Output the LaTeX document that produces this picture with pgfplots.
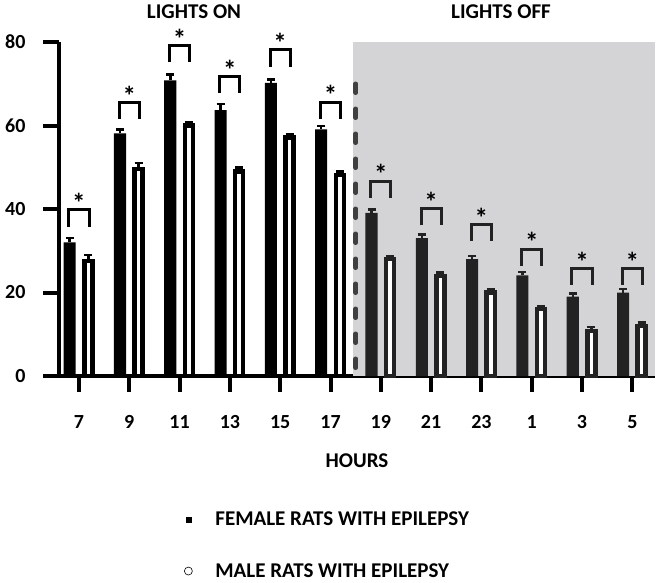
\documentclass[border=0pt]{standalone}
\usepackage{fontspec}
\setmainfont{Carlito}
\usepackage{pgfplots}
\usepackage{pgfplotstable}
\pgfplotsset{compat=1.18}
\definecolor{offbg}{RGB}{212,211,214}
\definecolor{offbar}{RGB}{34,34,34}
\definecolor{dashc}{RGB}{64,64,64}
\newcommand{\lbl}{\fontsize{20}{23}\selectfont\bfseries}

% x = hour index (7,9,...,17 lights on; 19,...,5 lights off)
\pgfplotstableread{
x f fe m me
0 32.0 1.0 27.5 1.5
1 58.1 0.9 49.6 1.4
2 70.8 1.4 60.0 0.8
3 63.7 1.4 49.0 0.9
4 70.2 0.8 57.1 0.8
5 59.1 0.8 48.1 0.9
}\onData
\pgfplotstableread{
x f fe m me
6 39.1 0.8 28.0 0.8
7 33.0 0.9 24.0 0.8
8 28.0 0.8 20.0 0.8
9 24.1 0.8 16.0 0.8
10 19.0 0.8 10.8 0.9
11 20.0 0.8 12.0 0.8
}\offData

\begin{document}
\begin{tikzpicture}
\begin{axis}[
  scale only axis, width=596pt, height=334pt,
  xmin=-0.397, xmax=11.45, ymin=0, ymax=80,
  axis x line*=bottom, axis y line*=left,
  axis line style={line width=4.5pt, -},
  xtick={0,...,11}, xticklabels={7,9,11,13,15,17,19,21,23,1,3,5},
  ytick={0,20,40,60,80},
  tick align=outside, major tick length=16pt,
  tick style={line width=4pt, black},
  font=\lbl,
  /pgf/number format/assume math mode=true,
  xticklabel style={yshift=-20pt},
  yticklabel style={xshift=-14pt},
  unbounded coords=jump,
  clip=false,
  legend cell align=left,
  legend style={draw=none, fill=none, at={(rel axis cs:0.205,-0.395)}, anchor=north west,
    row sep=32pt, font=\fontsize{21}{24}\selectfont\bfseries,
    /tikz/every odd column/.append style={column sep=21pt}},
]
\addlegendimage{only marks, mark=square*, mark size=2.6pt, black}
\addlegendentry{FEMALE RATS WITH EPILEPSY}
\addlegendimage{only marks, mark=o, mark size=4pt, line width=0.6pt, black}
\addlegendentry{MALE RATS WITH EPILEPSY}

\fill[offbg] (axis cs:5.45,0) rectangle (axis cs:11.45,80);
\draw[dashc, line width=4.5pt, line cap=round, dash pattern=on 9pt off 16pt] (axis cs:5.5,70) -- (axis cs:5.5,0);

% female bars
\addplot[forget plot, ybar, bar width=0.24, bar shift=0pt, fill=black, draw=none,
  error bars/.cd, y dir=plus, y explicit,
  error bar style={line width=2.5pt, black},
  error mark options={rotate=90, mark size=4pt, line width=2.5pt, black}]
  table[x expr=\thisrow{x}-0.185, y=f, y error=fe] {\onData};
\addplot[forget plot, ybar, bar width=0.24, bar shift=0pt, fill=offbar, draw=none,
  error bars/.cd, y dir=plus, y explicit,
  error bar style={line width=2.5pt, offbar},
  error mark options={rotate=90, mark size=4pt, line width=2.5pt, offbar}]
  table[x expr=\thisrow{x}-0.185, y=f, y error=fe] {\offData};
% male bars
\addplot[forget plot, ybar, bar width=0.16, bar shift=0pt, fill=white, draw=black, line width=4.5pt,
  error bars/.cd, y dir=plus, y explicit,
  error bar style={line width=2.5pt, black},
  error mark options={rotate=90, mark size=4pt, line width=2.5pt, black}]
  table[x expr=\thisrow{x}+0.185, y=m, y error=me] {\onData};
\addplot[forget plot, ybar, bar width=0.16, bar shift=0pt, fill=white, draw=offbar, line width=4.5pt,
  error bars/.cd, y dir=plus, y explicit,
  error bar style={line width=2.5pt, offbar},
  error mark options={rotate=90, mark size=4pt, line width=2.5pt, offbar}]
  table[x expr=\thisrow{x}+0.185, y=m, y error=me] {\offData};

% significance brackets
\addplot[forget plot, black, line width=3pt, mark=none] coordinates {
  (-0.2,35.8) (-0.2,39.8) (0.2,39.8) (0.2,35.8) (0.5,nan)
  (0.8,61.5) (0.8,65.5) (1.2,65.5) (1.2,61.5) (1.5,nan)
  (1.8,75.1) (1.8,79.1) (2.2,79.1) (2.2,75.1) (2.5,nan)
  (2.8,67.8) (2.8,71.8) (3.2,71.8) (3.2,67.8) (3.5,nan)
  (3.8,74.1) (3.8,78.1) (4.2,78.1) (4.2,74.1) (4.5,nan)
  (4.8,61.6) (4.8,65.6) (5.2,65.6) (5.2,61.6)
};
\addplot[forget plot, offbar, line width=3pt, mark=none] coordinates {
  (5.8,42.7) (5.8,46.7) (6.2,46.7) (6.2,42.7) (6.5,nan)
  (6.8,36.1) (6.8,40.1) (7.2,40.1) (7.2,36.1) (7.5,nan)
  (7.8,32.3) (7.8,36.3) (8.2,36.3) (8.2,32.3) (8.5,nan)
  (8.8,26.4) (8.8,30.4) (9.2,30.4) (9.2,26.4) (9.5,nan)
  (9.8,21.8) (9.8,25.8) (10.2,25.8) (10.2,21.8) (10.5,nan)
  (10.8,21.8) (10.8,25.8) (11.2,25.8) (11.2,21.8)
};
% asterisks
\addplot[forget plot, draw=none, mark=none, nodes near coords={*},
  nodes near coords style={anchor=south, inner sep=0pt, font=\fontsize{27}{30}\selectfont\bfseries, yshift=-3pt}]
  coordinates {(0,39.8) (1,65.5) (2,79.1) (3,71.8) (4,78.1) (5,65.6)
    (6,46.7) (7,40.1) (8,36.3) (9,30.4) (10,25.8) (11,25.8)};
\end{axis}
\node[font=\fontsize{21}{24}\selectfont\bfseries] at (135pt,364pt) {LIGHTS ON};
\node[font=\fontsize{21}{24}\selectfont\bfseries] at (442pt,364pt) {LIGHTS OFF};
\node[font=\fontsize{21}{24}\selectfont\bfseries] at (298pt,-85pt) {HOURS};
\path[use as bounding box] (-59pt,-203pt) rectangle (602pt,376pt);
\end{tikzpicture}
\end{document}
